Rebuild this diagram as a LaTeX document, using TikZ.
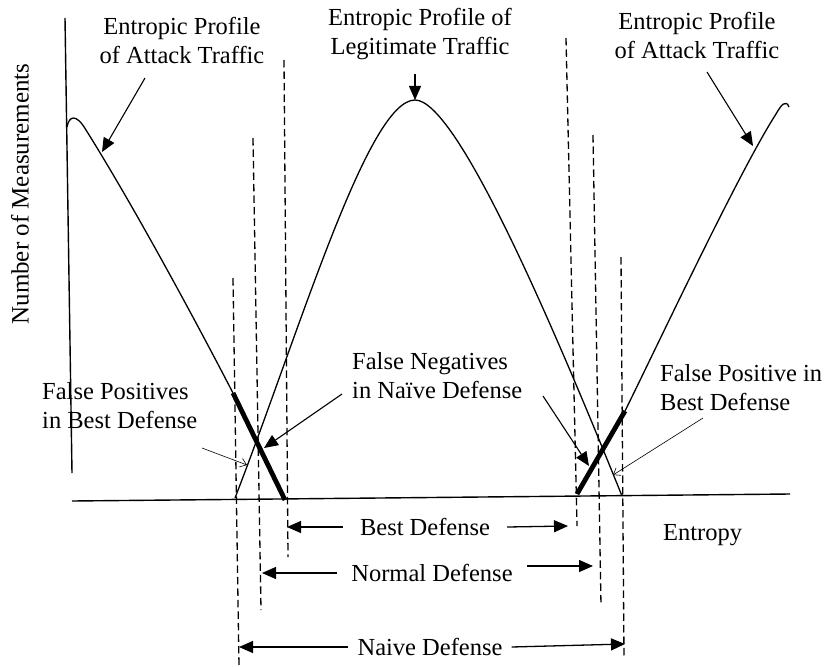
\documentclass[tikz,border=0pt]{standalone}
\usepackage{fontspec}
\setmainfont{Liberation Serif}
\usetikzlibrary{arrows.meta}
\begin{document}
\begin{tikzpicture}[x=1pt,y=-1pt,
  lbl/.style={font=\fontsize{24.5}{29}\selectfont, inner sep=0pt},
  curve/.style={line width=1.3pt, line join=round},
  thickseg/.style={line width=4.8pt},
  axis/.style={line width=1.4pt},
  guide/.style={line width=1.3pt, dash pattern=on 7.5pt off 4pt},
  pointer/.style={line width=1.1pt, -{Triangle[length=14pt,width=12pt]}},
  thinpointer/.style={line width=0.6pt, -{Straight Barb[length=6pt,width=9pt]}},
  dimline/.style={line width=1.3pt, -{Triangle[length=14pt,width=12pt]}},
]
\useasboundingbox (0,0) rectangle (829,666);

% axes
\draw[axis] (65,18) -- (72,473);
\draw[axis] (72,501) -- (790,494);
\node[lbl, rotate=90, font=\fontsize{25}{29}\selectfont] (ylab) at (20,194) {Number of Measurements};
\node[lbl, anchor=west] (xlab) at (663,535) {Entropy};

% attack traffic profile (low entropy side)
\draw[curve] (67,127) .. controls (69,116) and (76,113) .. (86,130)
             .. controls (130,200) and (190,310) .. (233,393);
\draw[thickseg] (233,393) -- (285,500);

% legitimate traffic profile
\draw[curve] (235,498) .. controls (300,330) and (368,100) .. (415,100)
             .. controls (455,100) and (545,305) .. (622,496);

% attack traffic profile (high entropy side)
\draw[thickseg] (577,494) -- (625,411);
\draw[curve] (625,411) .. controls (660,340) and (740,170) .. (776,114)
             .. controls (781,105) and (786,99) .. (789,107);

% threshold guides
\draw[guide] (233,278) -- (239,666);
\draw[guide] (253,138) -- (261,610);
\draw[guide] (284,60)  -- (288,557);
\draw[guide] (566,38)  -- (577,526);
\draw[guide] (593,135) -- (601,606);
\draw[guide] (621,257) -- (624,658);

% defense ranges
\coordinate (bestLtip) at (287,527);
\coordinate (bestRtip) at (568,526);
\node[lbl, inner xsep=17pt] (bestTxt) at (425,527) {Best Defense};
\draw[dimline] (bestTxt.west) -- (bestLtip);
\draw[dimline] (bestTxt.east) -- (bestRtip);

\coordinate (normLtip) at (262,573);
\coordinate (normRtip) at (593,566);
\node[lbl, inner xsep=14pt] (normTxt) at (432,573) {Normal Defense};
\draw[dimline] (normTxt.west) -- (normLtip);
\draw[dimline] (normTxt.east) ++(0,-7) -- (normRtip);

\coordinate (naiveLtip) at (239,647);
\coordinate (naiveRtip) at (625,644);
\node[lbl, inner xsep=9pt] (naiveTxt) at (430,647) {Naive Defense};
\draw[dimline] (naiveTxt.west) -- (naiveLtip);
\draw[dimline] (naiveTxt.east) -- (naiveRtip);

% profile labels
\node[lbl, align=center] (attL) at (182,40) {Entropic Profile\\of Attack Traffic};
\node[lbl, align=center] (legit) at (420,34) {Entropic Profile of\\Legitimate Traffic};
\node[lbl, align=center] (attR) at (697,35) {Entropic Profile\\of Attack Traffic};
\coordinate (attLfrom) at (145,78);   \coordinate (attLto) at (102,152);
\coordinate (legitfrom) at (415,74);  \coordinate (legitto) at (415,100);
\coordinate (attRfrom) at (707,72);   \coordinate (attRto) at (753,146);
\draw[pointer] (attLfrom) -- (attLto);
\draw[pointer] (legitfrom) -- (legitto);
\draw[pointer] (attRfrom) -- (attRto);

% error region labels
\node[lbl, align=left, anchor=west] (fnLab) at (352,376) {False Negatives\\in Naïve Defense};
\coordinate (fnLfrom) at (342,394);  \coordinate (fnLto) at (264,448);
\coordinate (fnRfrom) at (543,396);  \coordinate (fnRto) at (589,466);
\draw[pointer] (fnLfrom) -- (fnLto);
\draw[pointer] (fnRfrom) -- (fnRto);

\node[lbl, align=left, anchor=west] (fpLlab) at (42,406) {False Positives\\in Best Defense};
\node[lbl, align=left, anchor=west] (fpRlab) at (660,388) {False Positive in\\Best Defense};
\coordinate (fpLfrom) at (202,448);  \coordinate (fpLto) at (247,465);
\coordinate (fpRfrom) at (703,418);  \coordinate (fpRto) at (613,475);
\draw[thinpointer] (fpLfrom) -- (fpLto);
\draw[thinpointer] (fpRfrom) -- (fpRto);
\end{tikzpicture}
\end{document}
